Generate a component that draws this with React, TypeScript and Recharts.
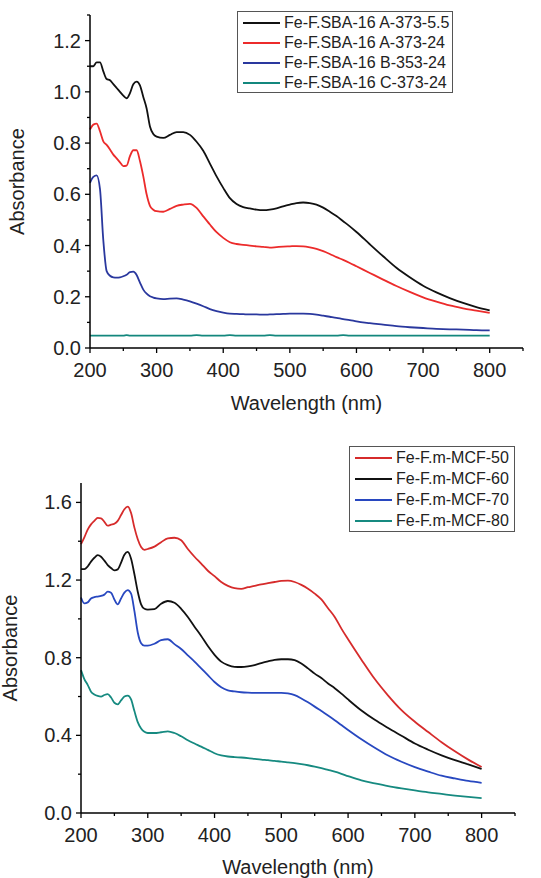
import { Legend, Line, LineChart, XAxis, YAxis } from "recharts"

const FONT = "'Liberation Sans', Arial, sans-serif"

// wavelength grid (nm), shared by both panels
const wavelengths = [
  200, 205, 210, 215, 220, 225, 230, 235, 240, 245, 250, 255, 260, 265, 270, 275, 280, 285, 290, 295, 300,
  310, 320, 330, 340, 350, 360, 370, 380, 390, 400, 410, 420, 430, 440, 450, 460, 470, 480, 490, 500,
  510, 520, 530, 540, 550, 560, 570, 580, 590, 600, 620, 640, 660, 680, 700, 720, 740, 760, 780, 800,
]

// top panel: Fe-F.SBA-16
const sbaA5 = [
  1.1, 1.1, 1.115, 1.115, 1.08, 1.05, 1.045, 1.03, 1.015, 1.0, 0.985, 0.975, 0.995, 1.03, 1.04, 1.025, 0.98, 0.935, 0.865, 0.835, 0.825,
  0.82, 0.832, 0.843, 0.843, 0.832, 0.805, 0.77, 0.72, 0.67, 0.625, 0.585, 0.562, 0.55, 0.545, 0.54, 0.538, 0.54, 0.545, 0.553, 0.56,
  0.566, 0.568, 0.566, 0.56, 0.548, 0.532, 0.515, 0.495, 0.475, 0.453, 0.405, 0.358, 0.313, 0.276, 0.243, 0.217, 0.195, 0.176, 0.16, 0.147,
]
const sbaA24 = [
  0.853, 0.872, 0.876, 0.846, 0.807, 0.793, 0.775, 0.755, 0.74, 0.725, 0.71, 0.712, 0.749, 0.772, 0.772, 0.73, 0.67, 0.6, 0.555, 0.54, 0.534,
  0.532, 0.543, 0.555, 0.56, 0.563, 0.547, 0.514, 0.482, 0.452, 0.43, 0.413, 0.406, 0.403, 0.4, 0.397, 0.395, 0.392, 0.394, 0.396, 0.397,
  0.398, 0.397, 0.393, 0.387, 0.378, 0.367, 0.355, 0.344, 0.332, 0.319, 0.293, 0.267, 0.242, 0.219, 0.198, 0.181, 0.166, 0.155, 0.146, 0.137,
]
const sbaB24 = [
  0.645, 0.668, 0.674, 0.62, 0.42, 0.3, 0.282, 0.276, 0.275, 0.276, 0.28, 0.286, 0.296, 0.298, 0.285, 0.255, 0.228, 0.212, 0.202, 0.197, 0.194,
  0.191, 0.193, 0.194, 0.189, 0.182, 0.173, 0.163, 0.152, 0.144, 0.138, 0.134, 0.133, 0.132, 0.131, 0.131, 0.13, 0.131, 0.132, 0.133, 0.134,
  0.134, 0.134, 0.133, 0.13, 0.126, 0.122, 0.118, 0.113, 0.109, 0.104, 0.097, 0.091, 0.085, 0.081, 0.078, 0.075, 0.073, 0.072, 0.07, 0.069,
]
const sbaC24 = [
  0.048, 0.048, 0.048, 0.048, 0.048, 0.048, 0.048, 0.048, 0.048, 0.048, 0.048, 0.05, 0.048, 0.048, 0.048, 0.048, 0.048, 0.048, 0.048, 0.048, 0.048,
  0.048, 0.048, 0.048, 0.048, 0.048, 0.05, 0.048, 0.048, 0.048, 0.048, 0.05, 0.048, 0.048, 0.048, 0.048, 0.048, 0.05, 0.048, 0.048, 0.048,
  0.048, 0.048, 0.048, 0.048, 0.048, 0.048, 0.048, 0.05, 0.048, 0.048, 0.048, 0.048, 0.048, 0.048, 0.048, 0.048, 0.048, 0.048, 0.048, 0.048,
]

// bottom panel: Fe-F.m-MCF
const mcf50 = [
  1.385, 1.42, 1.46, 1.487, 1.505, 1.52, 1.518, 1.5, 1.48, 1.485, 1.49, 1.505, 1.535, 1.565, 1.578, 1.545, 1.47, 1.41, 1.37, 1.356, 1.36,
  1.372, 1.395, 1.415, 1.418, 1.405, 1.36, 1.32, 1.285, 1.248, 1.22, 1.19, 1.17, 1.158, 1.155, 1.163, 1.17, 1.178, 1.184, 1.19, 1.196,
  1.197, 1.19, 1.175, 1.155, 1.13, 1.1, 1.055, 1.01, 0.95, 0.895, 0.79, 0.69, 0.605, 0.53, 0.47, 0.417, 0.365, 0.318, 0.275, 0.237,
]
const mcf60 = [
  1.256, 1.256, 1.27, 1.295, 1.315, 1.328, 1.32, 1.3, 1.277, 1.262, 1.25, 1.255, 1.29, 1.33, 1.345, 1.31, 1.23, 1.14, 1.075, 1.052, 1.048,
  1.05, 1.078, 1.092, 1.083, 1.052, 1.01, 0.96, 0.912, 0.86, 0.815, 0.78, 0.762, 0.753, 0.752, 0.755, 0.762, 0.772, 0.781, 0.789, 0.792,
  0.792, 0.787, 0.77, 0.745, 0.718, 0.695, 0.667, 0.643, 0.615, 0.585, 0.528, 0.48, 0.438, 0.398, 0.358, 0.326, 0.297, 0.272, 0.25, 0.227,
]
const mcf70 = [
  1.11, 1.08, 1.085, 1.105, 1.112, 1.115, 1.118, 1.125, 1.14, 1.135, 1.1, 1.075, 1.105, 1.135, 1.148, 1.13, 1.04, 0.93, 0.875, 0.862, 0.862,
  0.872, 0.89, 0.895, 0.87, 0.845, 0.812, 0.78, 0.745, 0.71, 0.675, 0.648, 0.632, 0.626, 0.622, 0.62, 0.619, 0.619, 0.619, 0.619, 0.619,
  0.616, 0.607, 0.59, 0.57, 0.548, 0.525, 0.502, 0.478, 0.453, 0.428, 0.38, 0.336, 0.296, 0.264, 0.236, 0.213, 0.192, 0.178, 0.165, 0.155,
]
const mcf80 = [
  0.736, 0.69, 0.66, 0.625, 0.61, 0.603, 0.6, 0.608, 0.612, 0.595, 0.568, 0.56, 0.58, 0.6, 0.605, 0.585, 0.525, 0.468, 0.435, 0.418, 0.412,
  0.412, 0.416, 0.421, 0.412, 0.395, 0.375, 0.358, 0.342, 0.325, 0.308, 0.297, 0.291, 0.288, 0.286, 0.283, 0.279, 0.275, 0.272, 0.268, 0.265,
  0.261, 0.257, 0.252, 0.246, 0.239, 0.231, 0.222, 0.213, 0.202, 0.19, 0.168, 0.153, 0.139, 0.127, 0.116, 0.106, 0.098, 0.09, 0.083, 0.077,
]

const topNames = ["Fe-F.SBA-16 A-373-5.5", "Fe-F.SBA-16 A-373-24", "Fe-F.SBA-16 B-353-24", "Fe-F.SBA-16 C-373-24"]
const bottomNames = ["Fe-F.m-MCF-50", "Fe-F.m-MCF-60", "Fe-F.m-MCF-70", "Fe-F.m-MCF-80"]

const xTicks = [200, 250, 300, 350, 400, 450, 500, 550, 600, 650, 700, 750, 800, 850]
const topYTicks = [0, 0.1, 0.2, 0.3, 0.4, 0.5, 0.6, 0.7, 0.8, 0.9, 1.0, 1.1, 1.2, 1.3]
const bottomYTicks = [0, 0.2, 0.4, 0.6, 0.8, 1.0, 1.2, 1.4, 1.6]

const topData = wavelengths.map((wl, i) => ({ wl, a5: sbaA5[i], a24: sbaA24[i], b24: sbaB24[i], c24: sbaC24[i] }))
const bottomData = wavelengths.map((wl, i) => ({ wl, m50: mcf50[i], m60: mcf60[i], m70: mcf70[i], m80: mcf80[i] }))

const XTick = ({ x, y, payload }: any) => {
  const v = payload.value
  const major = v % 100 === 0 && v <= 800
  return (
    <g>
      <line x1={x} x2={x} y1={y} y2={y + (major ? 5 : 3)} stroke="#000" strokeWidth={1.3} />
      {major && (
        <text x={x} y={y + 29} textAnchor="middle" fontSize={20} fontFamily={FONT} fill="#222">
          {v}
        </text>
      )}
    </g>
  )
}

const makeYTick = (step: number) => ({ x, y, payload }: any) => {
  const v = payload.value
  const major = Math.round(v * 10) % step === 0
  return (
    <g>
      <line x1={x - (major ? 5 : 3)} x2={x} y1={y} y2={y} stroke="#000" strokeWidth={1.3} />
      {major && (
        <text x={x - 9} y={y + 7} textAnchor="end" fontSize={20} fontFamily={FONT} fill="#222">
          {v.toFixed(1)}
        </text>
      )}
    </g>
  )
}

// legend box, keeps the series order given in `order`
const LegendBox = ({ payload, rowHeight, pad, order }: any) => {
  const items = [...(payload || [])].sort((a: any, b: any) => order.indexOf(a.value) - order.indexOf(b.value))
  return (
    <div
      style={{
        boxSizing: "border-box",
        width: "100%",
        height: "100%",
        border: "1.5px solid #555",
        background: "#fff",
        padding: `${pad}px 0 0 5px`,
      }}
    >
      {items.map((p: any) => (
        <div key={p.value} style={{ display: "flex", alignItems: "center", height: rowHeight }}>
          <div style={{ width: 37, height: 2, background: p.color, marginRight: 4 }} />
          <span style={{ fontSize: 16, fontFamily: FONT, color: "#222", whiteSpace: "nowrap" }}>{p.value}</span>
        </div>
      ))}
    </div>
  )
}

const axisLabelStyle = { fontSize: 20, fontFamily: FONT, fill: "#222" }

export default function App() {
  return (
    <div style={{ position: "absolute", left: 0, top: 0, width: 541, height: 878, background: "#fff" }}>
      <LineChart width={541} height={430} data={topData} margin={{ top: 15, right: 18, bottom: 0, left: 0 }}>
        <XAxis
          dataKey="wl"
          type="number"
          domain={[200, 850]}
          ticks={xTicks}
          interval={0}
          height={82}
          tickSize={0}
          tickMargin={0}
          tickLine={false}
          tick={XTick}
          axisLine={{ stroke: "#000", strokeWidth: 1.5 }}
          label={{ value: "Wavelength (nm)", position: "insideBottom", offset: 20, style: axisLabelStyle }}
        />
        <YAxis
          type="number"
          domain={[0, 1.3]}
          ticks={topYTicks}
          interval={0}
          width={90}
          tickSize={0}
          tickMargin={0}
          tickLine={false}
          tick={makeYTick(2)}
          axisLine={{ stroke: "#000", strokeWidth: 1.5 }}
          label={{
            value: "Absorbance",
            angle: -90,
            position: "insideLeft",
            offset: 17,
            style: { ...axisLabelStyle, textAnchor: "middle" },
          }}
        />
        <Legend
          layout="horizontal"
          verticalAlign="middle"
          align="center"
          wrapperStyle={{ left: 237, top: 11, width: 216, height: 82 }}
          content={(props: any) => <LegendBox {...props} rowHeight={20} pad={1} order={topNames} />}
        />
        <Line name={topNames[0]} dataKey="a5" stroke="#111111" strokeWidth={1.8} dot={false} type="monotone" isAnimationActive={false} />
        <Line name={topNames[1]} dataKey="a24" stroke="#ec2b2b" strokeWidth={1.8} dot={false} type="monotone" isAnimationActive={false} />
        <Line name={topNames[2]} dataKey="b24" stroke="#2a389e" strokeWidth={1.8} dot={false} type="monotone" isAnimationActive={false} />
        <Line name={topNames[3]} dataKey="c24" stroke="#13877d" strokeWidth={1.8} dot={false} type="monotone" isAnimationActive={false} />
      </LineChart>

      <LineChart width={541} height={448} data={bottomData} margin={{ top: 53, right: 26, bottom: 0, left: 0 }}>
        <XAxis
          dataKey="wl"
          type="number"
          domain={[200, 850]}
          ticks={xTicks}
          interval={0}
          height={65}
          tickSize={0}
          tickMargin={0}
          tickLine={false}
          tick={XTick}
          axisLine={{ stroke: "#000", strokeWidth: 1.5 }}
          label={{ value: "Wavelength (nm)", position: "insideBottom", offset: 4, style: axisLabelStyle }}
        />
        <YAxis
          type="number"
          domain={[0, 1.7]}
          ticks={bottomYTicks}
          interval={0}
          width={81}
          tickSize={0}
          tickMargin={0}
          tickLine={false}
          tick={makeYTick(4)}
          axisLine={{ stroke: "#000", strokeWidth: 1.5 }}
          label={{
            value: "Absorbance",
            angle: -90,
            position: "insideLeft",
            offset: 10,
            style: { ...axisLabelStyle, textAnchor: "middle" },
          }}
        />
        <Legend
          layout="horizontal"
          verticalAlign="middle"
          align="center"
          wrapperStyle={{ left: 349, top: 16, width: 166, height: 86 }}
          content={(props: any) => <LegendBox {...props} rowHeight={21} pad={0} order={bottomNames} />}
        />
        <Line name={bottomNames[0]} dataKey="m50" stroke="#d62b2b" strokeWidth={1.8} dot={false} type="monotone" isAnimationActive={false} />
        <Line name={bottomNames[1]} dataKey="m60" stroke="#111111" strokeWidth={1.8} dot={false} type="monotone" isAnimationActive={false} />
        <Line name={bottomNames[2]} dataKey="m70" stroke="#2848c0" strokeWidth={1.8} dot={false} type="monotone" isAnimationActive={false} />
        <Line name={bottomNames[3]} dataKey="m80" stroke="#168a80" strokeWidth={1.8} dot={false} type="monotone" isAnimationActive={false} />
      </LineChart>
    </div>
  )
}
